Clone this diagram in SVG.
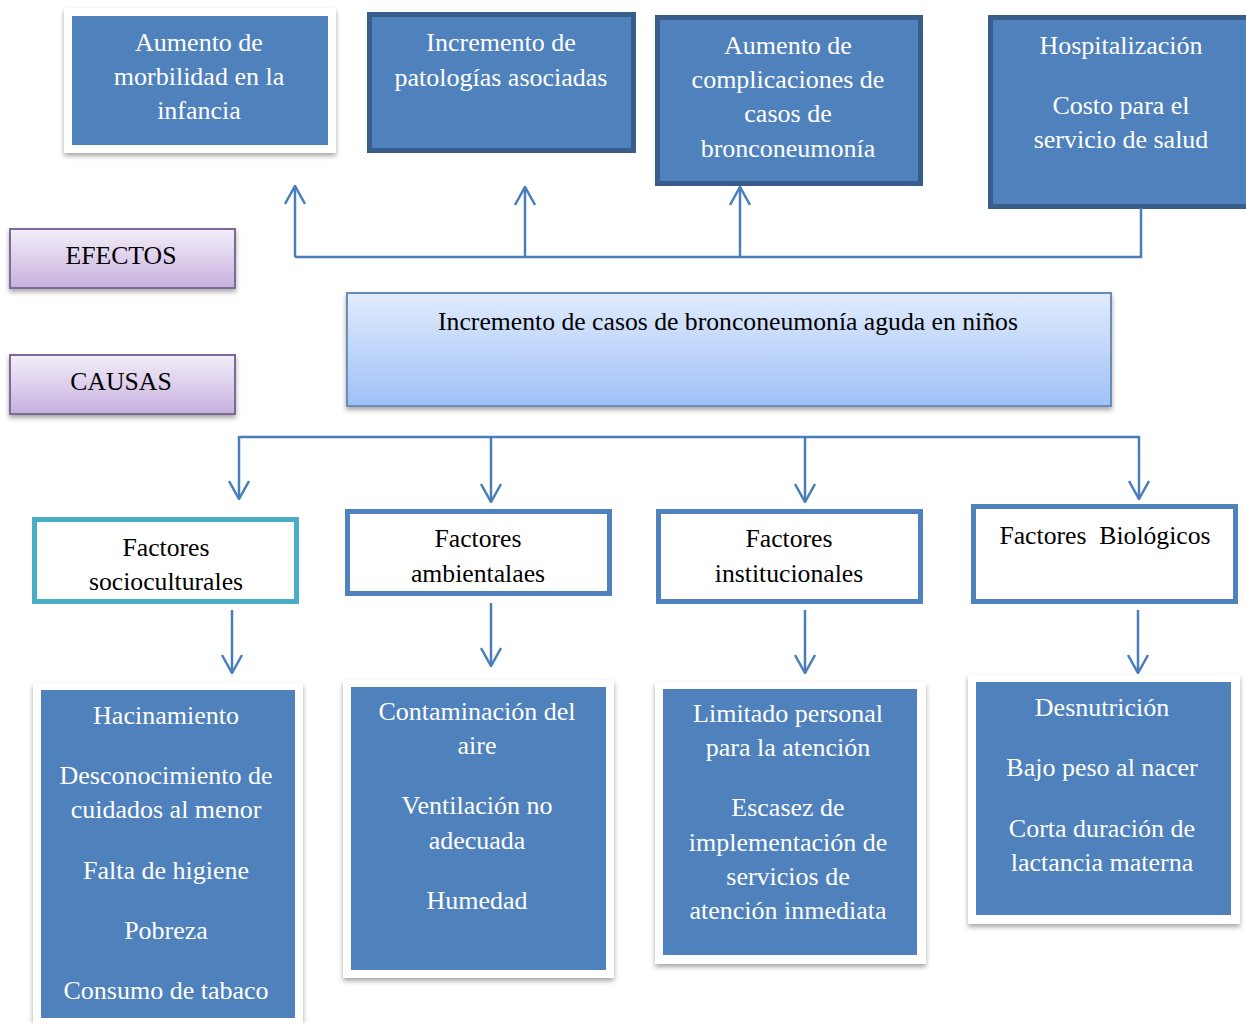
<svg xmlns="http://www.w3.org/2000/svg" width="1246" height="1023" viewBox="0 0 1246 1023">
<defs>
  <filter id="shadow" x="-10%" y="-10%" width="120%" height="130%">
    <feDropShadow dx="0" dy="3" stdDeviation="2.5" flood-color="#000" flood-opacity="0.35"/>
  </filter>
  <linearGradient id="purple" x1="0" y1="0" x2="0" y2="1">
    <stop offset="0" stop-color="#f3eef9"/>
    <stop offset="1" stop-color="#c6b0de"/>
  </linearGradient>
  <linearGradient id="lightblue" x1="0" y1="0" x2="0" y2="1">
    <stop offset="0" stop-color="#e1ebfc"/>
    <stop offset="1" stop-color="#9fc1f7"/>
  </linearGradient>
  <marker id="arrow" viewBox="0 0 20 22" refX="19" refY="11" markerWidth="20" markerHeight="22" markerUnits="userSpaceOnUse" orient="auto">
    <path d="M1,1 L19,11 L1,21" fill="none" stroke="#4a7ebb" stroke-width="2.5"/>
  </marker>
</defs>
<style>
  .wt { font-family: "Liberation Serif", "Times New Roman", serif; font-size: 26px; fill: #ffffff; text-anchor: middle; }
  .bt { font-family: "Liberation Serif", "Times New Roman", serif; font-size: 25.7px; fill: #000000; text-anchor: middle; }
  .frame { fill: #ffffff; filter: url(#shadow); }
  .blue { fill: #4f81bd; }
  .dark { fill: #4f81bd; stroke: #385d8a; stroke-width: 5; }
  .label { fill: url(#purple); stroke: #7d6b98; stroke-width: 2; filter: url(#shadow); }
  .factor { fill: #ffffff; stroke: #4f81bd; stroke-width: 5; }
  .teal { stroke: #4bacc6; }
  .conn { fill: none; stroke: #4a7ebb; stroke-width: 2.5; }
</style>

<!-- Effects -->
<g id="efecto1">
  <rect class="frame" x="64" y="8" width="272" height="145"/>
  <rect class="blue" x="72" y="16" width="256" height="129"/>
  <text class="wt" x="199" y="51">Aumento de</text>
  <text class="wt" x="199" y="85">morbilidad en la</text>
  <text class="wt" x="199" y="119">infancia</text>
</g>
<g id="efecto2">
  <rect class="dark" x="369.5" y="14.5" width="264" height="136"/>
  <text class="wt" x="501" y="51">Incremento de</text>
  <text class="wt" x="501" y="86">patologías asociadas</text>
</g>
<g id="efecto3">
  <rect class="dark" x="657.5" y="17.5" width="263" height="166"/>
  <text class="wt" x="788" y="54">Aumento de</text>
  <text class="wt" x="788" y="88">complicaciones de</text>
  <text class="wt" x="788" y="122">casos de</text>
  <text class="wt" x="788" y="157">bronconeumonía</text>
</g>
<g id="efecto4">
  <rect class="dark" x="990.5" y="17.5" width="270" height="189"/>
  <text class="wt" x="1121" y="54">Hospitalización</text>
  <text class="wt" x="1121" y="114">Costo para el</text>
  <text class="wt" x="1121" y="148">servicio de salud</text>
</g>

<!-- Labels -->
<g id="efectos">
  <rect class="label" x="10" y="229" width="225" height="59"/>
  <text class="bt" x="121" y="264">EFECTOS</text>
</g>
<g id="causas">
  <rect class="label" x="10" y="355" width="225" height="59"/>
  <text class="bt" x="121" y="390">CAUSAS</text>
</g>

<!-- Central problem -->
<g id="problema">
  <rect x="347" y="293" width="764" height="113" fill="url(#lightblue)" stroke="#6a8db6" stroke-width="2" filter="url(#shadow)"/>
  <text class="bt" x="728" y="330">Incremento de casos de bronconeumonía aguda en niños</text>
</g>

<!-- Factors -->
<g id="factor1">
  <rect class="factor teal" x="34.5" y="519.5" width="262" height="82"/>
  <text class="bt" x="166" y="556">Factores</text>
  <text class="bt" x="166" y="590">socioculturales</text>
</g>
<g id="factor2">
  <rect class="factor" x="347.5" y="511.5" width="262" height="82"/>
  <text class="bt" x="478" y="547">Factores</text>
  <text class="bt" x="478" y="582">ambientalaes</text>
</g>
<g id="factor3">
  <rect class="factor" x="658.5" y="511.5" width="262" height="90"/>
  <text class="bt" x="789" y="547">Factores</text>
  <text class="bt" x="789" y="582">institucionales</text>
</g>
<g id="factor4">
  <rect class="factor" x="973.5" y="506.5" width="262" height="95"/>
  <text class="bt" x="1105" y="544" xml:space="preserve">Factores  Biológicos</text>
</g>

<!-- Cause detail boxes -->
<g id="detalle1">
  <rect class="frame" x="33" y="683" width="270" height="345"/>
  <rect class="blue" x="41" y="690" width="254" height="328"/>
  <text class="wt" x="166" y="724">Hacinamiento</text>
  <text class="wt" x="166" y="784">Desconocimiento de</text>
  <text class="wt" x="166" y="818">cuidados al menor</text>
  <text class="wt" x="166" y="879">Falta de higiene</text>
  <text class="wt" x="166" y="939">Pobreza</text>
  <text class="wt" x="166" y="999">Consumo de tabaco</text>
</g>
<g id="detalle2">
  <rect class="frame" x="343" y="680" width="271" height="298"/>
  <rect class="blue" x="351" y="687" width="255" height="283"/>
  <text class="wt" x="477" y="720">Contaminación del</text>
  <text class="wt" x="477" y="754">aire</text>
  <text class="wt" x="477" y="814">Ventilación no</text>
  <text class="wt" x="477" y="849">adecuada</text>
  <text class="wt" x="477" y="909">Humedad</text>
</g>
<g id="detalle3">
  <rect class="frame" x="655" y="682" width="271" height="282"/>
  <rect class="blue" x="663" y="689" width="254" height="266"/>
  <text class="wt" x="788" y="722">Limitado personal</text>
  <text class="wt" x="788" y="756">para la atención</text>
  <text class="wt" x="788" y="816">Escasez de</text>
  <text class="wt" x="788" y="851">implementación de</text>
  <text class="wt" x="788" y="885">servicios de</text>
  <text class="wt" x="788" y="919">atención inmediata</text>
</g>
<g id="detalle4">
  <rect class="frame" x="968" y="675" width="272" height="249"/>
  <rect class="blue" x="976" y="682" width="255" height="233"/>
  <text class="wt" x="1102" y="716">Desnutrición</text>
  <text class="wt" x="1102" y="776">Bajo peso al nacer</text>
  <text class="wt" x="1102" y="837">Corta duración de</text>
  <text class="wt" x="1102" y="871">lactancia materna</text>
</g>

<!-- Connectors -->
<g id="connectors">
  <polyline class="conn" points="1141,208 1141,257 295,257"/>
  <line class="conn" x1="295" y1="257" x2="295" y2="186" marker-end="url(#arrow)"/>
  <line class="conn" x1="525" y1="257" x2="525" y2="187" marker-end="url(#arrow)"/>
  <line class="conn" x1="740" y1="257" x2="740" y2="187" marker-end="url(#arrow)"/>

  <polyline class="conn" points="239,437 1139,437"/>
  <line class="conn" x1="239" y1="436" x2="239" y2="499" marker-end="url(#arrow)"/>
  <line class="conn" x1="491" y1="437" x2="491" y2="502" marker-end="url(#arrow)"/>
  <line class="conn" x1="805" y1="437" x2="805" y2="502" marker-end="url(#arrow)"/>
  <line class="conn" x1="1139" y1="436" x2="1139" y2="499" marker-end="url(#arrow)"/>

  <line class="conn" x1="232" y1="610" x2="232" y2="673" marker-end="url(#arrow)"/>
  <line class="conn" x1="491" y1="603" x2="491" y2="666" marker-end="url(#arrow)"/>
  <line class="conn" x1="805" y1="610" x2="805" y2="673" marker-end="url(#arrow)"/>
  <line class="conn" x1="1138" y1="610" x2="1138" y2="673" marker-end="url(#arrow)"/>
</g>
</svg>
